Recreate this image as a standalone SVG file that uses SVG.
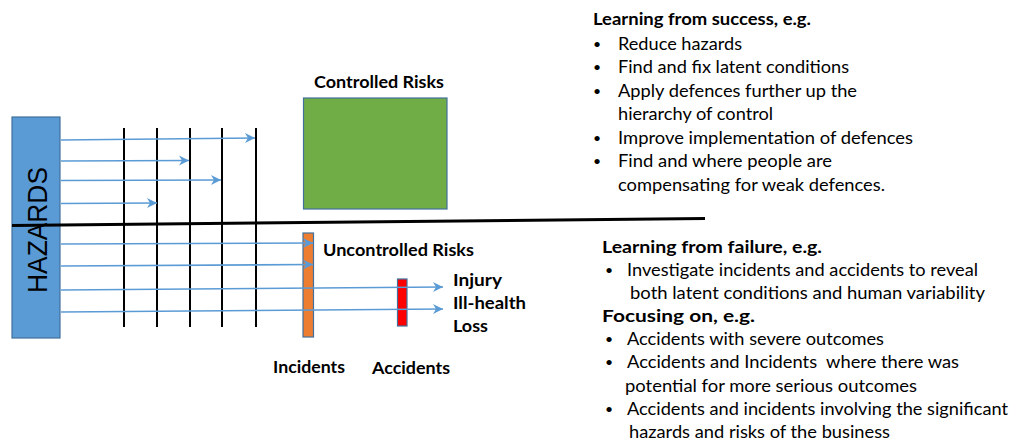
<svg xmlns="http://www.w3.org/2000/svg" width="1011" height="441" viewBox="0 0 1011 441">
  <style>
    text { font-family: Lato, "Open Sans", "Liberation Sans", sans-serif; fill: #000; }
    .t { font-size: 17px; }
    .b { font-size: 17px; font-weight: bold; }
    .dot { font-size: 14px; }
    .haz { font-family: "Liberation Sans", Arial, sans-serif; font-size: 27px; }
    .barrier { stroke: #000; stroke-width: 2; }
    .flow { stroke: #5b9bd5; stroke-width: 1.6; fill: none; }
    .box { stroke: #41719c; stroke-width: 1.2; }
  </style>
  <defs>
    <marker id="arrow" markerUnits="userSpaceOnUse" markerWidth="12" markerHeight="12" refX="10.5" refY="5.5" orient="auto">
      <path d="M0.5,0.5 L10.5,5.5 L0.5,10.5 L3.5,5.5 Z" fill="#5b9bd5"/>
    </marker>
  </defs>

  <rect width="1011" height="441" fill="#fff"/>

  <!-- hazard source -->
  <g id="hazards">
    <rect class="box" x="12" y="117" width="48" height="221" fill="#5b9bd5"/>
    <text class="haz" transform="translate(47,230) rotate(-90)" text-anchor="middle" textLength="126" lengthAdjust="spacingAndGlyphs">HAZARDS</text>
  </g>

  <!-- controls (barriers) -->
  <g id="barriers">
    <line class="barrier" x1="124" y1="128" x2="124" y2="327"/>
    <line class="barrier" x1="157" y1="128" x2="157" y2="327"/>
    <line class="barrier" x1="190" y1="128" x2="190" y2="327"/>
    <line class="barrier" x1="222" y1="128" x2="222" y2="327"/>
    <line class="barrier" x1="256" y1="128" x2="256" y2="327"/>
  </g>

  <g id="controlled-risks">
    <rect class="box" x="303.5" y="98" width="143.5" height="111" fill="#70ad47"/>
    <text class="b" x="314" y="88" textLength="130" lengthAdjust="spacingAndGlyphs">Controlled Risks</text>
  </g>

  <g id="incidents">
    <rect class="box" x="303" y="233" width="10.5" height="104" fill="#ed7d31"/>
    <text class="b" x="273" y="373" textLength="72" lengthAdjust="spacingAndGlyphs">Incidents</text>
  </g>

  <g id="accidents">
    <rect class="box" x="397.5" y="279" width="9.5" height="47" fill="#ff0000"/>
    <text class="b" x="372" y="374" textLength="78" lengthAdjust="spacingAndGlyphs">Accidents</text>
  </g>

  <!-- hazard paths -->
  <g id="connectors">
    <line class="flow" x1="61" y1="140" x2="255" y2="138" marker-end="url(#arrow)"/>
    <line class="flow" x1="61" y1="161" x2="189" y2="160.5" marker-end="url(#arrow)"/>
    <line class="flow" x1="61" y1="180.5" x2="221" y2="180" marker-end="url(#arrow)"/>
    <line class="flow" x1="61" y1="203.5" x2="157" y2="203" marker-end="url(#arrow)"/>
    <line class="flow" x1="61" y1="244" x2="313" y2="243" marker-end="url(#arrow)"/>
    <line class="flow" x1="61" y1="266" x2="313" y2="264.5" marker-end="url(#arrow)"/>
    <line class="flow" x1="61" y1="290" x2="443" y2="287" marker-end="url(#arrow)"/>
    <line class="flow" x1="61" y1="312" x2="443" y2="309" marker-end="url(#arrow)"/>
  </g>

  <!-- dividing line between controlled and uncontrolled -->
  <line id="divider" x1="12" y1="225.5" x2="705" y2="218.5" stroke="#000" stroke-width="3"/>

  <g id="uncontrolled-risks">
    <text class="b" x="323" y="256" textLength="151" lengthAdjust="spacingAndGlyphs">Uncontrolled Risks</text>
  </g>

  <g id="outcomes">
    <text class="b" x="453" y="286" textLength="49" lengthAdjust="spacingAndGlyphs">Injury</text>
    <text class="b" x="453" y="309" textLength="73" lengthAdjust="spacingAndGlyphs">Ill-health</text>
    <text class="b" x="453" y="332" textLength="35" lengthAdjust="spacingAndGlyphs">Loss</text>
  </g>

  <!-- learning from success -->
  <g id="learning-success">
    <text class="b" x="593" y="25" textLength="218" lengthAdjust="spacingAndGlyphs">Learning from success, e.g.</text>
    <g class="dot">
      <text x="597" y="49" text-anchor="middle">•</text>
      <text x="597" y="72" text-anchor="middle">•</text>
      <text x="597" y="96" text-anchor="middle">•</text>
      <text x="597" y="143" text-anchor="middle">•</text>
      <text x="597" y="166" text-anchor="middle">•</text>
    </g>
    <g class="t">
      <text x="618" y="50" textLength="124" lengthAdjust="spacingAndGlyphs">Reduce hazards</text>
      <text x="618" y="73" textLength="231" lengthAdjust="spacingAndGlyphs">Find and fix latent conditions</text>
      <text x="618" y="97" textLength="239" lengthAdjust="spacingAndGlyphs">Apply defences further up the</text>
      <text x="618" y="120" textLength="155" lengthAdjust="spacingAndGlyphs">hierarchy of control</text>
      <text x="618" y="144" textLength="295" lengthAdjust="spacingAndGlyphs">Improve implementation of defences</text>
      <text x="618" y="167" textLength="214" lengthAdjust="spacingAndGlyphs">Find and where people are</text>
      <text x="618" y="191" textLength="267" lengthAdjust="spacingAndGlyphs">compensating for weak defences.</text>
    </g>
  </g>

  <!-- learning from failure -->
  <g id="learning-failure">
    <text class="b" x="602" y="253" textLength="220" lengthAdjust="spacingAndGlyphs">Learning from failure, e.g.</text>
    <text class="b" x="602" y="322" textLength="153" lengthAdjust="spacingAndGlyphs">Focusing on, e.g.</text>
    <g class="dot">
      <text x="609" y="275" text-anchor="middle">•</text>
      <text x="609" y="344" text-anchor="middle">•</text>
      <text x="609" y="367" text-anchor="middle">•</text>
      <text x="609" y="414" text-anchor="middle">•</text>
    </g>
    <g class="t">
      <text x="627" y="276" textLength="351" lengthAdjust="spacingAndGlyphs">Investigate incidents and accidents to reveal</text>
      <text x="630" y="299" textLength="355" lengthAdjust="spacingAndGlyphs">both latent conditions and human variability</text>
      <text x="627" y="345" textLength="257" lengthAdjust="spacingAndGlyphs">Accidents with severe outcomes</text>
      <text x="627" y="368" textLength="332" lengthAdjust="spacingAndGlyphs" xml:space="preserve">Accidents and Incidents  where there was</text>
      <text x="625" y="392" textLength="292" lengthAdjust="spacingAndGlyphs">potential for more serious outcomes</text>
      <text x="627" y="415" textLength="381" lengthAdjust="spacingAndGlyphs">Accidents and incidents involving the significant</text>
      <text x="629" y="438" textLength="261" lengthAdjust="spacingAndGlyphs">hazards and risks of the business</text>
    </g>
  </g>
</svg>
